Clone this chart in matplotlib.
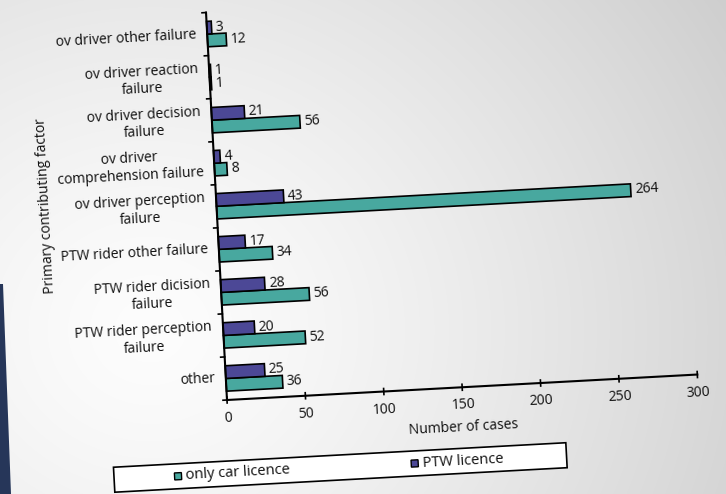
import numpy as np
import matplotlib
matplotlib.use("Agg")
import matplotlib.pyplot as plt
from matplotlib.transforms import Affine2D
from matplotlib.patches import Rectangle, Polygon

plt.rcParams['font.family'] = ['Open Sans', 'DejaVu Sans']
plt.rcParams['font.size'] = 10

# Data (bottom to top)
categories = [
    "other",
    "PTW rider perception\nfailure",
    "PTW rider dicision\nfailure",
    "PTW rider other failure",
    "ov driver perception\nfailure",
    "ov driver\ncomprehension failure",
    "ov driver decision\nfailure",
    "ov driver reaction\nfailure",
    "ov driver other failure",
]
car_licence = [36, 52, 56, 34, 264, 8, 56, 1, 12]
ptw_licence = [25, 20, 28, 17, 43, 4, 21, 1, 3]
xticks = [0, 50, 100, 150, 200, 250, 300]

teal = "#48a89f"
purple = "#4c4896"

# Figure / layout in pixels
W, H = 726, 494
x0, y0 = 227, 94          # origin of the plot (display px)
AW, AH = 471, 388         # unrotated plot size (px)
ANGLE = 3.1               # whole slide is tilted

fig = plt.figure(figsize=(W / 100, H / 100), dpi=100)

# background gradient and dark slide edge
bg = fig.add_axes([0, 0, 1, 1], zorder=-10)
yy, xx = np.mgrid[0:H, 0:W]
d = np.hypot(xx - 150, (yy - 330) * 1.1) / 650
v = np.clip(253 - 44 * d ** 1.3, 190, 255) / 255
bg.imshow(np.dstack([v, v, v]), extent=(0, W, H, 0), aspect='auto')
bg.add_patch(Polygon([(0, 284), (3, 284), (11, H), (0, H)], closed=True,
                     facecolor="#263659", edgecolor="none"))
bg.set_xlim(0, W)
bg.set_ylim(H, 0)
bg.axis('off')

ax = fig.add_axes([x0 / W, y0 / H, AW / W, AH / H])
ax.set_xlim(0, 300)
ax.set_ylim(0, len(categories))
ax.axis('off')

rot = Affine2D().rotate_deg_around(x0, y0, ANGLE)


def shifted(dx=0, dy=0):
    return ax.transData + Affine2D().translate(dx, dy) + rot


px = Affine2D().translate(x0, y0) + rot   # pixel offsets from origin
dx_pp = 300 / AW
dy_pp = len(categories) / AH

ypos = np.arange(len(categories)) + 0.5
h = 0.295

bars_car = ax.barh(ypos - h / 2, car_licence, height=h, color=teal,
                   edgecolor='black', linewidth=1.2)
bars_ptw = ax.barh(ypos + h / 2, ptw_licence, height=h, color=purple,
                   edgecolor='black', linewidth=1.2)
for b in list(bars_car) + list(bars_ptw):
    b.set_transform(ax.transData + rot)
    b.set_clip_on(False)

txt = dict(rotation=ANGLE, rotation_mode='anchor', clip_on=False, color='#111111')

# value labels
for vals, off in ((car_licence, -h / 2), (ptw_licence, h / 2)):
    for v_, y_ in zip(vals, ypos + off):
        ax.text(v_, y_, str(v_), transform=shifted(4, 0), ha='left', va='center', **txt)

# axis lines
ax.plot([0, 0], [0, len(categories)], color='black', lw=1.5, transform=ax.transData + rot, clip_on=False)
ax.plot([0, 300], [0, 0], color='black', lw=1.5, transform=ax.transData + rot, clip_on=False)

# ticks
for t in xticks:
    ax.plot([t, t], [-3 * dy_pp, 3 * dy_pp], color='black', lw=1.2,
            transform=ax.transData + rot, clip_on=False)
    ax.text(t, 0, str(t), transform=shifted(0, -18), ha='center', va='center', **txt)
for k in range(len(categories) + 1):
    ax.plot([-4 * dx_pp, 0], [k, k], color='black', lw=1.2,
            transform=ax.transData + rot, clip_on=False)

# category labels
for name, y_ in zip(categories, ypos):
    ax.text(0, y_, name, transform=shifted(-11, 0), ha='right', va='center',
            multialignment='center', linespacing=1.2, **txt)

# axis titles
ax.text(150, 0, "Number of cases", transform=shifted(-1, -40), ha='center', va='center', **txt)
ax.text(0, len(categories) / 2, "Primary contributing factor", transform=shifted(-170, 10),
        ha='center', va='center', rotation=90 + ANGLE, rotation_mode='anchor',
        clip_on=False, color='#111111')

# legend
ax.add_patch(Rectangle((-117, -86), 453, 25, transform=px, facecolor='white',
                       edgecolor='black', linewidth=1.2, clip_on=False))
for color, label, cx in ((teal, "only car licence", -53), (purple, "PTW licence", 184)):
    ax.add_patch(Rectangle((cx - 3.5, -77), 7, 7, transform=px, facecolor=color,
                           edgecolor='black', linewidth=1, clip_on=False))
    ax.text(cx + 8, -73.5, label, transform=px, ha='left', va='center', fontsize=10.5, **txt)

fig.savefig("out.png", dpi=100)
